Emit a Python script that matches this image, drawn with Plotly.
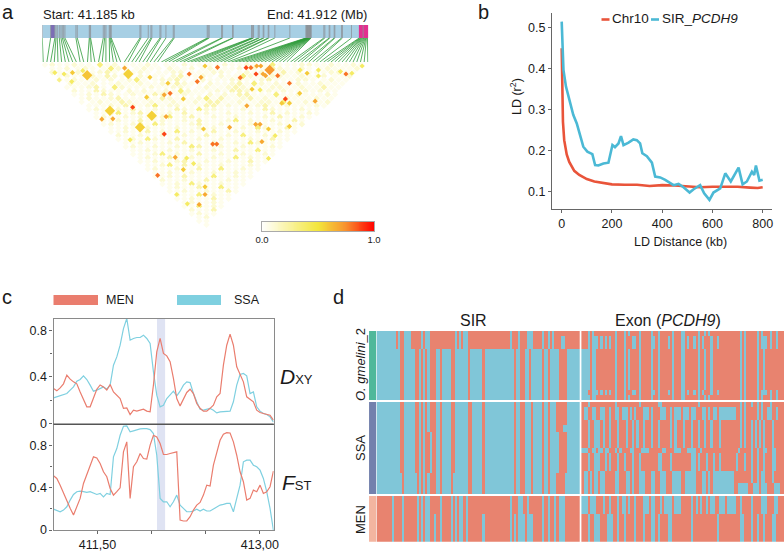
import numpy as np
import plotly.graph_objects as go

W, H = 784, 555
FONT = "Liberation Sans"
GREY = "#666666"

# --- panel a: SNP positions along the region (kb from start) ---
snp_kb = [
    0, 18.6, 28, 30.5, 33.4, 37.9, 41.6, 44.6, 47.6, 50.5, 75, 78, 104.8, 106.2, 107.7, 136, 139, 141.9,
    149.3, 150.8, 152.3, 153.8,
    217.7, 219.9, 236.3, 242.2, 244.4, 262.3, 264.5, 275.7, 292, 294.2,
    367.8, 370, 372.2, 399.7, 402, 424.3, 425.7, 466.6, 468.1, 469.6, 471.1, 481.5, 483.7, 492.6, 494.1,
    503.8, 505.2, 518.6, 552,
    587.7, 589.2, 589.9, 590.7, 591.4, 592.2, 592.9, 593.6, 594.4, 595.1, 595.9, 596.6, 597.3, 598.1, 598.8, 599.6,
    627.8, 630.1, 639.7, 641.2, 650.9, 652.4, 667.2, 669.4, 689.5,
    706.6, 708.1, 709.6, 711.1, 712.5, 714, 715.5, 717, 718.5, 720, 721.5, 722.9, 725.2,
]
region_len_kb = 727
purple_kb = [18.6, 28]
pink_kb = [706, 727]
bar_tick_labels = ["Start: 41.185 kb", "End: 41.912 (Mb)"]

# LD cells, weak background: one string per pair-distance row, one char per SNP midpoint
ld_weak_rows = [
    "1 2 1 1 2 1 1  4 1 2  1 1 1 2 1  1 1  2 1 1  1 1 2 1 1 2 1  1 4 1 1 1 2 2 1 1 2 1 1 2 1 ",
    " 1 1 2  1 2 1  1 4 2 1  1 2 1 1  2 1 1 2  1 2 1 1 1 2 1 2  1 3 2 1 1 2 1  1 2 1 1 1 2 1",
    "2 1  1 2 1 1 2 3 1  1 1 2 1  1 1 2 2  1 1 1 2 2 1  1 2 1 2 1 1 3 1 2  1 1 1 2 2 1 1 4",
    " 1 2 1 1  2 1 3 2 1 1  2 1 1 1  2 3 1 1 2 1  2 1 1 4 2 1 1 2 2 1 1 2 1 1 2  1 1 2 1",
    "1 1 2 1 1 2 1 2  1 2 4 1  1 2 2 3 1  1 2 1 1 1 2 2 1 1 2 3 1 1 1 2 2 1  1 2 1 1 2",
    "  2 1 1 2  1 1 2 1 1 2 1 1 2 1 3 2 1 1  2 1 1 2 3 1 4 2 1 2 1 1 2 1 1 2 1 1 1 ",
    "1 1 1 2 3 1  4 2 1 1 1 2 1 1 2 2 1  1 2 1 1 2 3 2 1 1 1 2 2 1 1 2 1 1 3 1 1",
    " 2 1 1 3 2 1 1  2 1 2 1 1 2 1 4 2 1 1 1 2 1 3 3 2 1 1 2 1 2 1 1 2 1 2 1 1 ",
    "1 1 2 1 3 2 1 1 2 1 1 3 2 1 1 2 1 1  2 1 2 1 3 3 1 1 1 4 1 1 2 1 1 1 2 1",
    " 1 2 1 1 2 3 1 1 1 2 1 3 2 1 1 1 2 4 1 3 1 1 2 3 1 2 1 1 2 1 1 1 2 1 1",
    "1  1 2 1 1 3 2 1 1 2 1 1 2 1 1 2 1 3 3 1 1 2 1 1 2 2 1 4 1 1 2 1 1 2",
    " 1 1 1 2 1 3 2 1 2 4 1 2 2 1 1 1 3 3 1 2 1 1 1 2 3 1 1 2 1 1 1 2 1",
    "1 2 1 1 2 1 3 1 1 2 1 1 3 2 1 4 2 2 1 1 1 2 1 1 3 2 1 1 1 2 1 1",
    " 1 1 2 4 1 2 3 1 1 1 2 1 3 1 1 2 1 1 2 1 1 2 1 1 3 1 2 1 1 2 1",
    "1 2 1 1 2 1 2 1 1 2 4 1 2 3 1 1 2 1 1 2 1 1 1 2 1 3 1 1 2 1",
    " 1 1 2 1 1 3 1 1 2 1 1 2 1 3 1 1 1 2 4 1 2 1 1 2 1 1 3 1 ",
    "1 2 1 1 2 3 1 4 2 1 1 1 2 3 1 1 2 1 1 1 2 1 1 1 2 1 1 2",
    " 1 1 2 1 3 2 1 1 1 2 1 1 2 1 2 1 1 1 2 1 4 2 1 1 3 1 ",
    "1 1 2 1 1 3 1 2 1 4 1 2 1 1 3 1 1 2 1 1 2 1 1 2 1 1",
    " 2 1 1 2 1 1 2 1 1 2 1 1 3 1 1 2 1 4 1 1 2 1 1 1 ",
    "1 1 2 1 4 2 1 1 3 1 1 2 1 1 2 1 1 1 2 1 1 3 1 1",
    " 1 1 2 1 1 1 2 1 3 1 1 1 2 1 1 2 1 4 2 1 1 1 ",
    "1 2 1 1 2 1 1 2 1 4 3 1 1 2 1 1 2 1 1 1 2 1",
    " 1 1 2 1 1 2 1 1 2 1 1 2 1 1 3 1 1 4 1 1 ",
    "1 1 1 2 4 1 2 1 1 3 1 1 2 1 1 2 1 1 2 1",
    " 1 2 1 1 3 1 1 2 1 1 2 1 1 4 1 2 1 1 ",
    "1 1 2 1 1 2 3 1 1 2 1 1 2 1 1 3 1 1",
    " 1 1 2 4 1 3 1 2 1 1 2 1 1 1 2 1 ",
    "1 2 1 1 2 1 1 3 1 1 4 1 1 2 1 1",
    " 1 1 2 1 1 2 1 1 2 1 1 2 1 1 ",
    "1 1 2 1 3 1 1 1 4 1 1 2 1 1",
    " 2 1 1 2 1 1 3 1 1 2 1 1 ",
    "1 1 2 1 4 2 1 1 2 1 1 1",
    " 1 2 1 1 3 1 1 4 1 1 ",
    "1 1 2 1 1 2 1 1 3 1",
    " 2 1 1 4 1 2 1 1 ",
    "1 1 2 1 1 3 1 1",
    " 1 2 1 1 2 1 ",
    "1 1 4 1 2 1",
    " 2 1 1 3 ",
    "1 2 1 1",
    " 1 2 ",
    "1 1",
    " 1",
]
ld_hot_mid = [2.7, 5.2, 7.5, 10.3, 3.9, 7.3, 21.7, 28.6, 33.5, 32.5, 34.1, 27.7, 37.7, 39.3, 41.5, 42.5, 43.6, 47, 53.2,
              54.8, 56.1, 57.7, 58.8, 57.5, 59.4, 60.1, 63.4, 56.4, 58.6, 66.6, 69.4, 65.5, 64.5, 66.6, 73.6, 55, 23.9,
              15.5, 18.5, 33, 32.5, 23.2, 43.2, 50.3, 57.4, 58.6, 60.9, 66.6, 59.1, 62.7, 45.7, 46.8, 35.5, 38.6, 37.7,
              40.5, 30.7, 43.6, 43.6, 35.9, 38.8, 42, 60.9, 71.4, 74.5, 82, 83.6, 80.5, 86.4, 74.5, 69.5]
ld_hot_dist = [5.2, 5.9, 5.2, 4.1, 9.1, 10, 2.7, 7.7, 10.9, 17.1, 16.3, 18.4, 19.3, 5.9, 10, 7.7, 1.6, 2.3, 7.9,
               2.5, 2.5, 1.6, 1.6, 5.9, 5.9, 6.8, 6.8, 14.1, 14.5, 10.9, 16.3, 19.3, 21.6, 21.6, 20.5, 23, 23.8,
               30.2, 30, 28.8, 38.2, 41.3, 35.5, 34.6, 33, 33, 35.5, 34.1, 42.3, 39.1, 43.6, 43.6, 50.7, 51.1, 57.3,
               54.1, 60.4, 66.6, 70.7, 70.7, 75.7, 76.1, 51.3, 5.5, 3.8, 5.9, 5.5, 4.6, 1.6, 7, 3.8]
ld_hot_r2 = [0.4, 0.4, 0.58, 0.4, 0.3, 0.4, 0.68, 0.58, 0.58, 0.68, 0.8, 0.58, 0.58, 0.8, 0.8, 0.68, 0.58, 0.8, 0.8,
             0.88, 0.8, 0.68, 0.68, 0.88, 0.68, 0.68, 0.8, 0.58, 0.4, 0.8, 0.58, 0.88, 0.58, 0.58, 0.68, 0.68, 0.88,
             0.68, 0.68, 0.68, 0.88, 0.4, 0.58, 0.68, 0.68, 0.68, 0.58, 0.58, 0.68, 0.4, 0.8, 0.8, 0.68, 0.4, 0.58,
             0.4, 0.8, 0.58, 0.68, 0.4, 0.4, 0.68, 0.4, 0.58, 0.4, 0.8, 0.4, 0.4, 0.4, 0.4, 0.4]
# larger LD blocks
ld_block_mid = [11.5, 22.7, 61.2, 17.7, 29.1, 25.9]
ld_block_dist = [6.6, 5.9, 3.8, 25.7, 28.4, 34.6]
ld_block_r2 = [0.6, 0.56, 0.72, 0.56, 0.56, 0.56]

# --- panel b ---
chr10_kb = [0, 2, 5, 10, 20, 30, 50, 70, 100, 130, 170, 200, 250, 300, 350, 400, 450, 500, 550, 600, 650, 700, 750, 780, 800]
chr10_r2 = [0.45, 0.33, 0.27, 0.225, 0.19, 0.172, 0.15, 0.14, 0.13, 0.124, 0.12, 0.117, 0.116, 0.116, 0.113, 0.115, 0.114,
            0.112, 0.11, 0.111, 0.111, 0.111, 0.109, 0.108, 0.11]
sir_kb = [0, 3, 7, 17, 33, 46, 60, 73, 86, 102, 122, 133, 146, 166, 186, 202, 212, 226, 236, 246, 266, 285, 299, 312, 321,
          339, 359, 372, 392, 412, 432, 445, 465, 485, 509, 525, 551, 567, 588, 604, 631, 651, 673, 704, 720, 737, 757,
          766, 773, 787, 800]
sir_r2 = [0.515, 0.445, 0.397, 0.356, 0.315, 0.287, 0.266, 0.234, 0.209, 0.197, 0.191, 0.164, 0.163, 0.168, 0.17, 0.213,
          0.208, 0.217, 0.235, 0.213, 0.219, 0.227, 0.225, 0.217, 0.193, 0.186, 0.17, 0.136, 0.134, 0.128, 0.12, 0.115,
          0.118, 0.11, 0.097, 0.105, 0.115, 0.095, 0.079, 0.097, 0.107, 0.144, 0.124, 0.158, 0.117, 0.124, 0.148, 0.14,
          0.163, 0.126, 0.128]

# --- panel c: values at 67 window positions ---
c_pos = np.linspace(411.094, 413.125, 67)
dxy_men = [.30, .28, .305, .34, .415, .38, .357, .34, .27, .20, .143, .143, .214, .294, .33, .314, .286, .334, .27, .243,
           .214, .13, .134, .077, .114, .106, .117, .123, .106, .10, .33, .614, .729, .60, .58, .53, .386, .214, .151,
           .214, .266, .294, .257, .171, .13, .106, .106, .13, .157, .229, .257, .50, .671, .766, .671, .486, .414, .357,
           .229, .209, .186, .114, .094, .086, .077, .071, .029]
dxy_ssa = [.22, .229, .234, .243, .257, .286, .314, .363, .377, .409, .377, .329, .277, .286, .30, .314, .294, .329, .50,
           .571, .671, .814, .90, .714, .729, .737, .737, .757, .729, .686, .443, .243, .143, .157, .214, .243, .277, .237,
           .277, .329, .357, .351, .257, .186, .123, .114, .123, .129, .114, .091, .10, .10, .10, .106, .186, .329, .42,
           .429, .409, .257, .271, .143, .106, .086, .077, .057, .014]
fst_men = [.511, .486, .423, .345, .273, .204, .141, .219, .298, .439, .517, .596, .69, .68, .627, .549, .502, .392, .329,
           .361, .398, .737, .831, .298, .596, .643, .721, .674, .668, .80, .893, .878, .815, .712, .712, .721, .727, .737,
           .094, .085, .085, .125, .188, .235, .26, .329, .423, .414, .611, .737, .846, .903, .918, .915, .831, .705, .549,
           .455, .282, .298, .376, .361, .423, .345, .361, .408, .555]
fst_ssa = [.197, .188, .172, .188, .219, .282, .335, .361, .367, .361, .354, .361, .345, .335, .345, .313, .345, .335, .69,
           .768, .893, .978, .981, .925, .934, .947, .953, .956, .956, .947, .909, .705, .298, .266, .266, .219, .266, .329,
           .235, .204, .172, .172, .179, .197, .179, .197, .179, .179, .197, .219, .235, .241, .251, .251, .172, .298, .423,
           .643, .658, .658, .611, .596, .564, .486, .361, .204, 0]
c_band = [412.05, 412.125]
c_labelled = [411.5, 413.0]
c_labels = ["411,50", "413,00"]
c_minor = [412.0, 412.5]

# --- panel d: haplotype blocks (rows, base allele, column runs of the other allele) ---
sir_gmelini = [
    (3, 0, [(0, 9), (10, 11), (13, 16), (21, 22), (23, 25), (37, 38), (39, 40), (41, 43), (63, 64), (67, 68), (71, 74),
            (78, 79), (81, 82), (83, 84)]),
    (7, 0, [(0, 9), (10, 11), (13, 16), (21, 22), (23, 25), (37, 38), (39, 40), (41, 43), (63, 64), (67, 68), (71, 74),
            (78, 79), (81, 82), (83, 84), (87, 89)]),
    (29, 1, [(11, 13), (18, 20), (21, 22), (23, 24), (25, 28), (30, 31), (35, 37), (43, 44), (50, 51), (65, 66), (68, 70),
             (72, 73), (78, 79), (81, 82), (86, 90)]),
]
sir_ssa = [
    (13, 1, [(11, 13), (18, 20), (21, 22), (23, 24), (25, 28), (30, 31), (35, 37), (43, 45), (50, 51), (65, 66), (68, 70),
             (73, 74), (78, 79), (81, 82), (85, 90)]),
    (4, 1, [(11, 13), (18, 20), (21, 22), (23, 24), (25, 28), (30, 31), (35, 37), (43, 45), (50, 51), (65, 66), (68, 70),
            (73, 74), (78, 79), (81, 82), (85, 88)]),
    (23, 1, [(11, 13), (18, 20), (21, 22), (23, 25), (26, 28), (30, 31), (35, 37), (43, 45), (50, 51), (65, 66), (68, 70),
             (73, 74), (78, 79), (81, 82), (86, 90)]),
    (12, 1, [(12, 13), (19, 20), (21, 22), (23, 24), (25, 28), (30, 31), (35, 36), (43, 45), (50, 51), (65, 66), (68, 70),
             (73, 74), (78, 79), (81, 82), (85, 89)]),
]
sir_men = [
    (10, 0, [(7, 8), (12, 13), (19, 20), (21, 22), (23, 25), (30, 31), (35, 36), (37, 38), (39, 41), (42, 43), (63, 64),
             (67, 69), (71, 72), (78, 79), (81, 82), (84, 85), (86, 89)]),
    (16, 0, [(7, 8), (12, 13), (19, 20), (21, 22), (23, 25), (27, 28), (30, 31), (35, 36), (37, 38), (39, 41), (42, 43),
             (50, 51), (63, 64), (65, 66), (67, 70), (71, 74), (78, 79), (81, 82), (84, 85), (86, 89)]),
]
exon_gmelini = [
    (3, 0, [(3, 4), (5, 6), (16, 17), (20, 21), (22, 23), (27, 28), (33, 34), (36, 37), (43, 44), (47, 49), (55, 56),
            (58, 59), (60, 61), (75, 76), (77, 78), (83, 84), (85, 86), (89, 90), (92, 93)]),
    (7, 0, [(3, 4), (5, 8), (9, 10), (11, 12), (13, 14), (16, 17), (20, 21), (24, 26), (27, 28), (33, 35), (36, 37), (41, 42),
            (43, 44), (47, 49), (50, 51), (53, 54), (55, 56), (57, 58), (61, 62), (64, 65), (75, 76), (77, 78), (83, 84),
            (85, 88), (89, 90), (92, 93)]),
    (23, 0, [(0, 3), (3, 4), (5, 7), (16, 17), (20, 21), (22, 23), (27, 28), (33, 34), (36, 37), (43, 44), (47, 49), (55, 56),
             (58, 59), (61, 62), (75, 76), (77, 78), (83, 84), (86, 87)]),
    (3, 0, [(0, 3), (5, 8), (9, 10), (11, 12), (13, 14), (16, 17), (20, 21), (24, 26), (27, 28), (33, 35), (36, 37), (41, 42),
            (43, 44), (47, 49), (50, 51), (53, 54), (55, 56), (57, 58), (61, 62), (64, 65), (75, 76), (77, 78), (83, 84),
            (85, 88), (89, 90), (92, 93)]),
    (3, 0, [(0, 3), (3, 4), (5, 7), (16, 17), (20, 21), (22, 23), (27, 28), (33, 34), (36, 37), (43, 44), (47, 49), (55, 56),
            (58, 59), (60, 61), (75, 76), (77, 78), (83, 84), (85, 86), (89, 90), (92, 93)]),
]
exon_ssa = [
    (3, 0, [(3, 4), (16, 17), (27, 28), (36, 38), (55, 56), (75, 76), (77, 78), (80, 81), (83, 84), (85, 86), (89, 90)]),
    (7, 0, [(1, 3), (5, 7), (9, 11), (13, 14), (16, 18), (19, 22), (23, 24), (25, 26), (29, 32), (33, 34), (37, 40), (42, 43),
            (44, 47), (48, 51), (52, 54), (57, 59), (60, 61), (62, 64), (65, 68), (68, 73), (75, 76), (77, 78), (83, 84),
            (85, 86), (88, 90), (92, 93)]),
    (16, 0, [(3, 4), (6, 9), (10, 11), (13, 14), (17, 18), (21, 22), (24, 25), (26, 27), (29, 30), (33, 34), (36, 37), (42, 43),
             (44, 45), (48, 49), (52, 53), (55, 56), (58, 59), (61, 62), (65, 66), (75, 76), (77, 78), (80, 81), (82, 83),
             (84, 85), (86, 87), (90, 91)]),
    (3, 0, [(0, 3), (5, 7), (8, 10), (11, 13), (16, 17), (18, 19), (23, 25), (28, 32), (38, 40), (44, 47), (50, 54), (56, 57),
            (74, 75), (80, 81), (83, 84), (86, 88), (90, 92)]),
    (10, 0, [(3, 4), (6, 9), (11, 12), (13, 14), (17, 18), (20, 21), (24, 25), (27, 28), (36, 38), (42, 43), (52, 54), (55, 56),
             (59, 60), (62, 63), (65, 66), (73, 74), (77, 78), (80, 81), (83, 84), (86, 87), (90, 92)]),
    (7, 0, [(1, 3), (4, 5), (6, 8), (9, 11), (16, 18), (21, 23), (24, 25), (27, 30), (33, 35), (37, 40), (43, 47), (49, 54),
            (57, 59), (60, 61), (62, 65), (65, 69), (69, 72), (80, 81), (83, 84), (85, 87), (90, 91)]),
    (6, 0, [(1, 3), (4, 5), (6, 8), (9, 11), (16, 18), (21, 23), (24, 25), (27, 30), (33, 35), (37, 40), (43, 47), (49, 54),
            (57, 59), (60, 61), (62, 65), (65, 69), (69, 72), (74, 79), (81, 84), (85, 88), (91, 94)]),
]
exon_men = [
    (10, 0, [(0, 3), (4, 7), (10, 11), (13, 14), (17, 18), (19, 21), (22, 23), (25, 26), (29, 32), (33, 35), (37, 38), (39, 41),
             (41, 43), (44, 47), (52, 53), (54, 55), (56, 57), (59, 60), (61, 63), (65, 68), (69, 71), (71, 73), (75, 76),
             (80, 81), (85, 88), (91, 93)]),
    (16, 0, [(3, 4), (6, 9), (12, 15), (17, 18), (20, 21), (25, 26), (29, 30), (33, 35), (36, 37), (41, 43), (52, 53), (64, 65),
             (75, 77), (80, 81), (83, 84), (86, 87), (90, 92)]),
]
group_names = ["O. gmelini_2", "SSA", "MEN"]
group_rows = [39, 52, 26]
n_cols = 96


def dom_x(a, b):
    return [a / W, b / W]


def dom_y(top, bottom):
    return [1 - bottom / H, 1 - top / H]


def paint(sections):
    rows = []
    for count, base, runs in sections:
        row = [base] * n_cols
        for a, b in runs:
            for k in range(a, b):
                row[k] = 1 - base
        rows += [row] * count
    return rows


def block(groups):
    gap = [[None] * n_cols]
    return paint(groups[0]) + gap + paint(groups[1]) + gap + paint(groups[2])


hidden = dict(visible=False, fixedrange=True)
fig = go.Figure()

# panel a, SNP ticks on the bar and the fan down to the LD matrix
tick_x, tick_y, fan_x, fan_y = [], [], [], []
bottoms = np.linspace(2, region_len_kb - 1, len(snp_kb))
for kb, low in zip(snp_kb, bottoms):
    if kb < pink_kb[0] or kb == 715.5:
        tick_x += [kb, kb, None]
        tick_y += [0, 1, None]
    fan_x += [kb, low, None]
    fan_y += [1, 0, None]
fig.add_trace(go.Scatter(x=tick_x, y=tick_y, xaxis="x", yaxis="y", mode="lines", line=dict(color="#8d9399", width=0.8)))
fig.add_trace(go.Scatter(x=fan_x, y=fan_y, xaxis="x", yaxis="y2", mode="lines", line=dict(color="#2f9a3a", width=0.8)))

weak_mid, weak_dist, weak_r2 = [], [], []
levels = {"1": 0.05, "2": 0.11, "3": 0.2, "4": 0.33}
for r, text in enumerate(ld_weak_rows):
    for c, ch in enumerate(text[:88 - 2 * r]):
        if ch in levels:
            weak_mid.append(r + c)
            weak_dist.append(2 * r + 1)
            weak_r2.append(levels[ch])

ld_scale = [[0, "#ffffff"], [0.5, "#f3e63c"], [0.75, "#f8902e"], [1, "#ff0000"]]
for mids, dists, vals, size in [(weak_mid, weak_dist, weak_r2, 5),
                                (ld_hot_mid, ld_hot_dist, ld_hot_r2, 4),
                                (ld_block_mid, ld_block_dist, ld_block_r2, 8)]:
    fig.add_trace(go.Scatter(x=mids, y=dists, xaxis="x3", yaxis="y3", mode="markers",
                             marker=dict(symbol="diamond", size=size, color=vals, colorscale=ld_scale,
                                         cmin=0, cmax=1, line=dict(width=0))))

ramp = np.linspace(0, 1, 120)
fig.add_trace(go.Heatmap(z=[ramp], x=ramp, y=[0], xaxis="x4", yaxis="y4", colorscale=ld_scale, zmin=0, zmax=1,
                         showscale=False))

# panel b
fig.add_trace(go.Scatter(x=chr10_kb, y=chr10_r2, xaxis="x5", yaxis="y5", mode="lines", line=dict(color="#e9543a", width=2.6)))
fig.add_trace(go.Scatter(x=sir_kb, y=sir_r2, xaxis="x5", yaxis="y5", mode="lines", line=dict(color="#4bb9d5", width=2.6)))

# panel c
C_RED, C_BLUE = "#ea7d6e", "#7fd0e0"
fig.add_trace(go.Scatter(x=c_pos, y=dxy_ssa, xaxis="x6", yaxis="y6", mode="lines", line=dict(color=C_BLUE, width=1.2)))
fig.add_trace(go.Scatter(x=c_pos, y=dxy_men, xaxis="x6", yaxis="y6", mode="lines", line=dict(color=C_RED, width=1.2)))
fig.add_trace(go.Scatter(x=c_pos, y=fst_ssa, xaxis="x7", yaxis="y7", mode="lines", line=dict(color=C_BLUE, width=1.2)))
fig.add_trace(go.Scatter(x=c_pos, y=fst_men, xaxis="x7", yaxis="y7", mode="lines", line=dict(color=C_RED, width=1.2)))

# panel d
D_RED, D_BLUE = "#e8836f", "#80c6d8"
hap_scale = [[0, D_RED], [1, D_BLUE]]
fig.add_trace(go.Heatmap(z=block([sir_gmelini, sir_ssa, sir_men]), x0=0.5, dx=1, y0=0.5, dy=1, xaxis="x8", yaxis="y8",
                         colorscale=hap_scale, zmin=0, zmax=1, showscale=False, hoverongaps=False))
fig.add_trace(go.Heatmap(z=block([exon_gmelini, exon_ssa, exon_men]), x0=n_cols + 1.5, dx=1, y0=0.5, dy=1, xaxis="x8",
                         yaxis="y8", colorscale=hap_scale, zmin=0, zmax=1, showscale=False, hoverongaps=False))
strip = [[0]] * group_rows[0] + [[None]] + [[1]] * group_rows[1] + [[None]] + [[2]] * group_rows[2]
fig.add_trace(go.Heatmap(z=strip, x0=-2.05, dx=3.15, y0=0.5, dy=1, xaxis="x8", yaxis="y8", zmin=0, zmax=2,
                         colorscale=[[0, "#4fb89a"], [0.5, "#7381ad"], [1, "#f3b5a0"]], showscale=False))

shapes = [
    dict(type="rect", xref="x", yref="y", x0=0, x1=region_len_kb, y0=0, y1=1, fillcolor="#a7cfe4", line_width=0, layer="below"),
    dict(type="rect", xref="x", yref="y", x0=purple_kb[0], x1=purple_kb[1], y0=0, y1=1, fillcolor="#7c6db5", line_width=0, layer="below"),
    dict(type="rect", xref="x", yref="y", x0=pink_kb[0], x1=pink_kb[1], y0=0, y1=1, fillcolor="#e2308f", line_width=0, layer="below"),
    # blue window across both panels of c
    dict(type="rect", xref="x6", yref="paper", x0=c_band[0], x1=c_band[1], y0=1 - 530 / H, y1=1 - 318.5 / H,
         fillcolor="#dfe3f3", line_width=0, layer="below"),
    # dark rule between DXY and FST
    dict(type="line", xref="paper", yref="paper", x0=53.5 / W, x1=273.7 / W, y0=1 - 424.2 / H, y1=1 - 424.2 / H, line=dict(color="#555555", width=1.6)),
    # legend keys
    dict(type="line", xref="paper", yref="paper", x0=601.5 / W, x1=609.5 / W, y0=1 - 19.5 / H, y1=1 - 19.5 / H, line=dict(color="#e9543a", width=2.6)),
    dict(type="line", xref="paper", yref="paper", x0=651 / W, x1=659 / W, y0=1 - 19.5 / H, y1=1 - 19.5 / H, line=dict(color="#4bb9d5", width=2.6)),
    dict(type="rect", xref="paper", yref="paper", x0=53.5 / W, x1=98 / W, y0=1 - 305 / H, y1=1 - 295 / H, fillcolor=C_RED, line_width=0),
    dict(type="rect", xref="paper", yref="paper", x0=177 / W, x1=221 / W, y0=1 - 305 / H, y1=1 - 295 / H, fillcolor=C_BLUE, line_width=0),
]


def note(x, y, text, size=13, anchor="center", angle=0):
    return dict(xref="paper", yref="paper", x=x / W, y=1 - y / H, text=text, showarrow=False, xanchor=anchor, yanchor="middle",
                textangle=angle, font=dict(family=FONT, size=size, color="#1a1a1a"))


annotations = [
    note(0, 12, "a", 20, "left"), note(476, 12, "b", 20, "left"), note(0, 297, "c", 20, "left"), note(331, 297, "d", 20, "left"),
    note(41, 15, bar_tick_labels[0], 13, "left"), note(369, 15, bar_tick_labels[1], 13, "right"),
    note(610, 19, "Chr10", 13.5, "left"), note(660, 19, "SIR_<i>PCDH9</i>", 13.5, "left"),
    note(516, 97, "LD (r<sup>2</sup>)", 12.5, angle=-90), note(680, 242, "LD Distance (kb)", 12.5),
    note(104, 300, "MEN", 12.5, "left"), note(232, 300, "SSA", 12.5, "left"),
    note(278, 377, "<i>D</i><span style='font-size:13px'>XY</span>", 21, "left"),
    note(280, 482, "<i>F</i><span style='font-size:13px'>ST</span>", 21, "left"),
    note(473, 320, "SIR", 16), note(668, 320, "Exon (<i>PCDH9</i>)", 16),
    note(360, 365, "<i>O. gmelini</i>_2", 13, angle=-90), note(360, 448, group_names[1], 13, angle=-90),
    note(360, 520, group_names[2], 13, angle=-90),
]

box = dict(showgrid=False, zeroline=False, showline=True, linecolor="#8a8a8a", linewidth=1.2, mirror=True, fixedrange=True,
           tickfont=dict(family=FONT, size=12.5, color="#1a1a1a"), tickcolor=GREY, ticklen=3, ticks="outside")
c_x_range = [411.094, 413.128]
y_minor = dict(tickvals=[0.2, 0.6], ticks="outside", ticklen=2, tickcolor=GREY)

fig.update_layout(
    width=W, height=H, autosize=False, margin=dict(l=0, r=0, t=0, b=0, autoexpand=False), showlegend=False,
    paper_bgcolor="white", plot_bgcolor="rgba(0,0,0,0)", shapes=shapes, annotations=annotations,
    font=dict(family=FONT),
    xaxis=dict(domain=dom_x(42.3, 368.3), range=[0, region_len_kb], anchor="y", **hidden),
    yaxis=dict(domain=dom_y(25, 38), range=[0, 1], anchor="x", **hidden),
    yaxis2=dict(domain=dom_y(38, 62), range=[0, 1], anchor="x", **hidden),
    xaxis3=dict(domain=dom_x(42, 368), range=[-0.8, 88], anchor="y3", **hidden),
    yaxis3=dict(domain=dom_y(62, 230), range=[89.8, -0.54], anchor="x3", **hidden),
    xaxis4=dict(domain=dom_x(262, 374), range=[0, 1], anchor="y4", showgrid=False, zeroline=False, showline=True, mirror=True,
                linecolor="#aaaaaa", tickvals=[0, 1], ticktext=["0.0", "1.0"], ticks="", fixedrange=True,
                tickfont=dict(family=FONT, size=9.5, color="#1a1a1a")),
    yaxis4=dict(domain=dom_y(222, 231), range=[-0.5, 0.5], anchor="x4", showgrid=False, zeroline=False, showline=True, mirror=True,
                linecolor="#aaaaaa", showticklabels=False, ticks="", fixedrange=True),
    xaxis5=dict(domain=dom_x(552, 772), range=[-38.6, 837], anchor="y5", showgrid=False, zeroline=False, showline=True,
                linecolor=GREY, linewidth=1.2, tickvals=[0, 200, 400, 600, 800], ticks="outside", ticklen=3, tickcolor=GREY,
                fixedrange=True, tickfont=dict(family=FONT, size=12.5, color="#1a1a1a")),
    yaxis5=dict(domain=dom_y(13, 209), range=[0.0567, 0.536], anchor="x5", showgrid=False, zeroline=False, showline=True,
                linecolor=GREY, linewidth=1.2, tickvals=[0.1, 0.2, 0.3, 0.4, 0.5], ticks="outside", ticklen=3, tickcolor=GREY,
                fixedrange=True, tickfont=dict(family=FONT, size=12.5, color="#1a1a1a")),
    xaxis6=dict(domain=dom_x(53.5, 273.7), range=c_x_range, anchor="y6", showgrid=False, zeroline=False, showline=True,
                linecolor="#8a8a8a", linewidth=1.2, mirror=True, showticklabels=False, ticks="", fixedrange=True),
    yaxis6=dict(domain=dom_y(318.5, 423.5), range=[0, 0.9], anchor="x6", tickvals=[0, 0.4, 0.8], ticktext=["0", "0.4", "0.8"],
                minor=y_minor, **box),
    xaxis7=dict(domain=dom_x(53.5, 273.7), range=c_x_range, anchor="y7", tickvals=c_labelled, ticktext=c_labels,
                minor=dict(tickvals=c_minor, ticks="outside", ticklen=3, tickcolor=GREY), **box),
    yaxis7=dict(domain=dom_y(425, 530), range=[0, 0.99], anchor="x7", tickvals=[0, 0.4, 0.8], ticktext=["0", "0.4", "0.8"],
                minor=y_minor, **box),
    xaxis8=dict(domain=dom_x(369, 784), range=[-3.65, 193], anchor="y8", **hidden),
    yaxis8=dict(domain=dom_y(331, 541.7), range=[119, 0], anchor="x8", **hidden),
)

fig.write_html("out.html", post_script="document.body.style.margin='0';", config=dict(displayModeBar=False))
